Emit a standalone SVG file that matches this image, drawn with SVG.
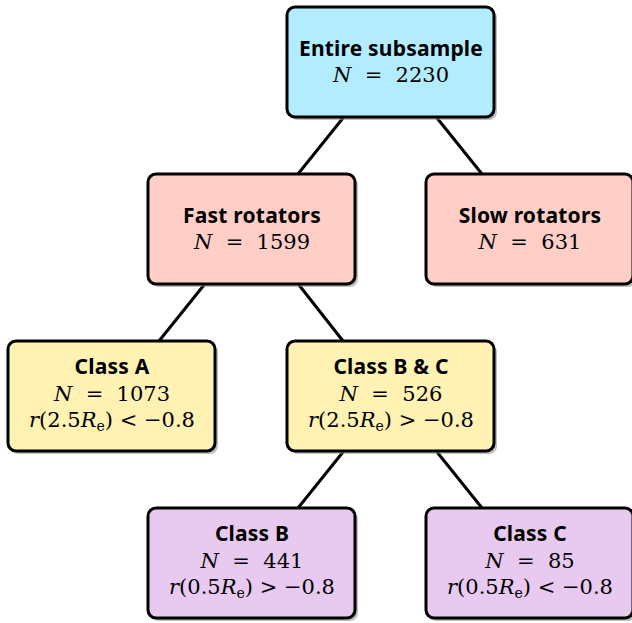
<svg xmlns="http://www.w3.org/2000/svg" width="632" height="623" viewBox="0 0 632 623">
<defs>
<style>
.box{stroke:#000;stroke-width:3}
.sh{fill:#8a8a8a;opacity:0.55}
.t{font-family:"Noto Sans","Open Sans",sans-serif;font-weight:bold;font-size:21px;letter-spacing:0.2px;text-anchor:middle;fill:#000}
.m{font-family:"DejaVu Serif","Liberation Serif",serif;font-size:21px;text-anchor:middle;fill:#000;white-space:pre}
.i{font-style:italic}
.c{stroke:#000;stroke-width:3;fill:none}
.blue{fill:#b3ecff}.red{fill:#ffcfc7}.yel{fill:#fff2b3}.pur{fill:#e8caf0}
</style>
</defs>
<rect width="632" height="623" fill="#fff"/>
<g id="connectors">
<line class="c" x1="343" y1="118" x2="298" y2="174"/>
<line class="c" x1="437" y1="118" x2="482" y2="174"/>
<line class="c" x1="204" y1="285" x2="159" y2="341"/>
<line class="c" x1="299" y1="285" x2="343" y2="341"/>
<line class="c" x1="343" y1="452" x2="298" y2="508"/>
<line class="c" x1="437" y1="452" x2="482" y2="508"/>
</g>
<g id="entire">
<rect class="sh" x="290" y="10" width="207" height="110" rx="8"/>
<rect class="box blue" x="287" y="7" width="207" height="110" rx="8"/>
<text class="t" x="391" y="56">Entire subsample</text>
<text class="m" x="391" y="82"><tspan class="i">N</tspan>  =  2230</text>
</g>
<g id="fast">
<rect class="sh" x="151" y="177" width="207" height="110" rx="8"/>
<rect class="box red" x="148" y="174" width="207" height="110" rx="8"/>
<text class="t" x="252" y="223">Fast rotators</text>
<text class="m" x="252" y="249"><tspan class="i">N</tspan>  =  1599</text>
</g>
<g id="slow">
<rect class="sh" x="429" y="177" width="207" height="110" rx="8"/>
<rect class="box red" x="426" y="174" width="207" height="110" rx="8"/>
<text class="t" x="530" y="223">Slow rotators</text>
<text class="m" x="530" y="249"><tspan class="i">N</tspan>  =  631</text>
</g>
<g id="classA">
<rect class="sh" x="11" y="344" width="207" height="110" rx="8"/>
<rect class="box yel" x="8" y="341" width="207" height="110" rx="8"/>
<text class="t" x="112" y="374">Class A</text>
<text class="m" x="112" y="401"><tspan class="i">N</tspan>  =  1073</text>
<text class="m" x="112" y="427"><tspan class="i">r</tspan>(2.5<tspan class="i">R</tspan><tspan font-size="14" dy="4">e</tspan><tspan dy="-4">) &lt; −0.8</tspan></text>
</g>
<g id="classBC">
<rect class="sh" x="290" y="344" width="207" height="110" rx="8"/>
<rect class="box yel" x="287" y="341" width="207" height="110" rx="8"/>
<text class="t" x="391" y="374">Class B &amp; C</text>
<text class="m" x="391" y="401"><tspan class="i">N</tspan>  =  526</text>
<text class="m" x="391" y="427"><tspan class="i">r</tspan>(2.5<tspan class="i">R</tspan><tspan font-size="14" dy="4">e</tspan><tspan dy="-4">) &gt; −0.8</tspan></text>
</g>
<g id="classB">
<rect class="sh" x="151" y="511" width="207" height="110" rx="8"/>
<rect class="box pur" x="148" y="508" width="207" height="110" rx="8"/>
<text class="t" x="252" y="541">Class B</text>
<text class="m" x="252" y="568"><tspan class="i">N</tspan>  =  441</text>
<text class="m" x="252" y="594"><tspan class="i">r</tspan>(0.5<tspan class="i">R</tspan><tspan font-size="14" dy="4">e</tspan><tspan dy="-4">) &gt; −0.8</tspan></text>
</g>
<g id="classC">
<rect class="sh" x="429" y="511" width="207" height="110" rx="8"/>
<rect class="box pur" x="426" y="508" width="207" height="110" rx="8"/>
<text class="t" x="530" y="541">Class C</text>
<text class="m" x="530" y="568"><tspan class="i">N</tspan>  =  85</text>
<text class="m" x="530" y="594"><tspan class="i">r</tspan>(0.5<tspan class="i">R</tspan><tspan font-size="14" dy="4">e</tspan><tspan dy="-4">) &lt; −0.8</tspan></text>
</g>
</svg>
